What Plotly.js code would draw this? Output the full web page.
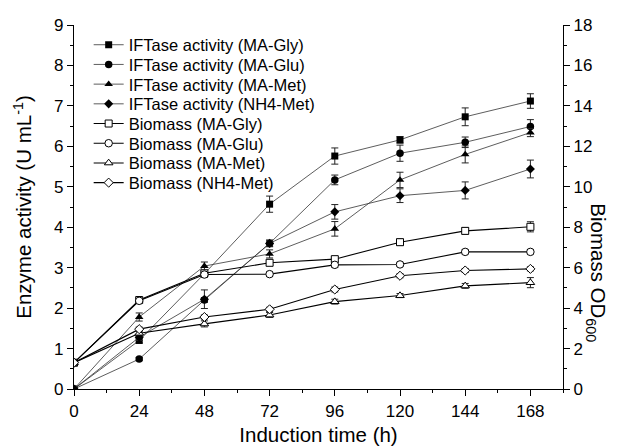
<!DOCTYPE html>
<html>
<head>
<meta charset="utf-8">
<script src="https://cdn.plot.ly/plotly-3.0.1.min.js"></script>
<style>html,body{margin:0;padding:0;background:#fff;}#chart{width:632px;height:448px;}</style>
</head>
<body>
<div id="chart"></div>
<script>
// Induction time (h)
const hours = [0, 24, 48, 72, 96, 120, 144, 168];

// IFTase activity (U mL-1), left axis
const actGly = [0, 1.20, 2.85, 4.57, 5.76, 6.16, 6.73, 7.12];
const actGlu = [0, 0.74, 2.20, 3.60, 5.17, 5.83, 6.10, 6.49];
const actMet = [0, 1.78, 3.04, 3.34, 3.96, 5.17, 5.80, 6.34];
const actNH4 = [0, 1.28, 2.22, 3.60, 4.38, 4.78, 4.91, 5.44];
const errActGly = [0, 0.06, 0.08, 0.20, 0.20, 0.08, 0.22, 0.18];
const errActGlu = [0, 0.04, 0.06, 0.08, 0.12, 0.20, 0.13, 0.17];
const errActMet = [0, 0.10, 0.10, 0.10, 0.18, 0.19, 0.21, 0.10];
const errActNH4 = [0, 0.08, 0.23, 0.08, 0.18, 0.17, 0.21, 0.22];

// Biomass OD600, right axis
const bioGly = [1.30, 4.40, 5.72, 6.24, 6.42, 7.26, 7.82, 8.02];
const bioGlu = [1.30, 4.36, 5.66, 5.68, 6.14, 6.16, 6.78, 6.78];
const bioMet = [1.30, 2.76, 3.22, 3.66, 4.32, 4.62, 5.10, 5.26];
const bioNH4 = [1.30, 2.96, 3.56, 3.94, 4.92, 5.60, 5.86, 5.94];
const errBioGly = [0.08, 0.10, 0.10, 0.12, 0.12, 0.16, 0.16, 0.25];
const errBioGlu = [0.08, 0.08, 0.10, 0.10, 0.12, 0.10, 0.10, 0.10];
const errBioMet = [0.08, 0.10, 0.15, 0.12, 0.12, 0.10, 0.12, 0.25];
const errBioNH4 = [0.08, 0.10, 0.10, 0.10, 0.12, 0.10, 0.10, 0.10];

const names = ['IFTase activity (MA-Gly)', 'IFTase activity (MA-Glu)', 'IFTase activity (MA-Met)', 'IFTase activity (NH4-Met)',
               'Biomass (MA-Gly)', 'Biomass (MA-Glu)', 'Biomass (MA-Met)', 'Biomass (NH4-Met)'];
const symbols = ['square', 'circle', 'triangle-up', 'diamond'];
const sizes = [7, 7.5, 7.5, 7];

function legId(k) { return k === 0 ? 'legend' : 'legend' + (k + 1); }

function act(y, err, i) {
  return {
    x: hours, y: y, name: names[i], type: 'scatter', mode: 'lines+markers',
    yaxis: 'y', legend: legId(i),
    line: {color: '#333', width: 0.8},
    marker: {symbol: symbols[i], size: sizes[i], color: '#000', line: {width: 0}},
    error_y: {type: 'data', array: err, visible: true, color: '#222', thickness: 1, width: 3.5}
  };
}
function bio(y, err, i) {
  return {
    x: hours, y: y, name: names[i + 4], type: 'scatter', mode: 'lines+markers',
    yaxis: 'y2', legend: legId(i + 4),
    line: {color: '#000', width: 1.1},
    marker: {symbol: symbols[i], size: sizes[i], color: '#fff', line: {color: '#000', width: 1}},
    error_y: {type: 'data', array: err, visible: true, color: '#222', thickness: 1, width: 3.5}
  };
}

const data = [
  act(actGly, errActGly, 0), act(actGlu, errActGlu, 1), act(actMet, errActMet, 2), act(actNH4, errActNH4, 3),
  bio(bioGly, errBioGly, 0), bio(bioGlu, errBioGlu, 1), bio(bioMet, errBioMet, 2), bio(bioNH4, errBioNH4, 3)
];

const font = 'Liberation Sans, Arial, sans-serif';
const layout = {
  width: 632, height: 448,
  margin: {l: 74, r: 69, t: 25, b: 59},
  paper_bgcolor: '#fff', plot_bgcolor: '#fff',
  font: {family: font, color: '#000', size: 17},
  showlegend: true,
  xaxis: {
    range: [0, 180], dtick: 24, tick0: 0, showgrid: false, zeroline: false,
    showline: true, linecolor: '#000', linewidth: 1.2,
    ticks: 'outside', ticklen: 6, tickwidth: 1, tickcolor: '#000',
    minor: {dtick: 12, ticks: 'outside', ticklen: 3, tickcolor: '#000', showgrid: false},
    tickfont: {size: 17}, automargin: false,
    title: {text: 'Induction time (h)', font: {size: 20.5}, standoff: 8}
  },
  xaxis2: {
    range: [0, 180], overlaying: 'x', side: 'top', anchor: 'y',
    dtick: 12, showticklabels: false, showgrid: false, zeroline: false,
    showline: true, linecolor: '#000', linewidth: 1.2,
    ticks: 'inside', ticklen: 5, tickcolor: '#000'
  },
  yaxis: {
    range: [0, 9], dtick: 1, showgrid: false, zeroline: false,
    showline: true, linecolor: '#000', linewidth: 1.2,
    ticks: 'outside', ticklen: 6, tickwidth: 1, tickcolor: '#000',
    minor: {dtick: 0.5, ticks: 'outside', ticklen: 3, tickcolor: '#000', showgrid: false},
    tickfont: {size: 17}, automargin: false,
    title: {text: 'Enzyme activity (U mL<sup>-1</sup>)', font: {size: 20.5}, standoff: 16}
  },
  yaxis2: {
    range: [0, 18], dtick: 2, overlaying: 'y', side: 'right', anchor: 'x',
    showgrid: false, zeroline: false,
    showline: true, linecolor: '#000', linewidth: 1.2,
    ticks: 'outside', ticklen: 6, tickwidth: 1, tickcolor: '#000',
    minor: {dtick: 1, ticks: 'outside', ticklen: 3, tickcolor: '#000', showgrid: false},
    tickfont: {size: 17}, automargin: false
  },
  annotations: [{
    text: 'Biomass OD<sub>600</sub>', xref: 'paper', yref: 'paper',
    x: 1.07, y: 0.32, xanchor: 'center', yanchor: 'middle', textangle: 90,
    showarrow: false, font: {family: font, size: 20.5, color: '#000'}
  }]
};

// one small legend per entry so the entry spacing can follow the reference
const plotTop = 25, plotH = 364, firstRow = 45, rowStep = 19.7;
for (let k = 0; k < names.length; k++) {
  const centre = firstRow + k * rowStep;
  layout[legId(k)] = {
    x: 0.03, y: 1 - (centre - plotTop) / plotH, xanchor: 'left', yanchor: 'middle',
    bgcolor: 'rgba(0,0,0,0)', borderwidth: 0, itemwidth: 30,
    font: {family: font, size: 16.5, color: '#000'}
  };
}

Plotly.newPlot('chart', data, layout, {staticPlot: true, displayModeBar: false});
</script>
</body>
</html>
